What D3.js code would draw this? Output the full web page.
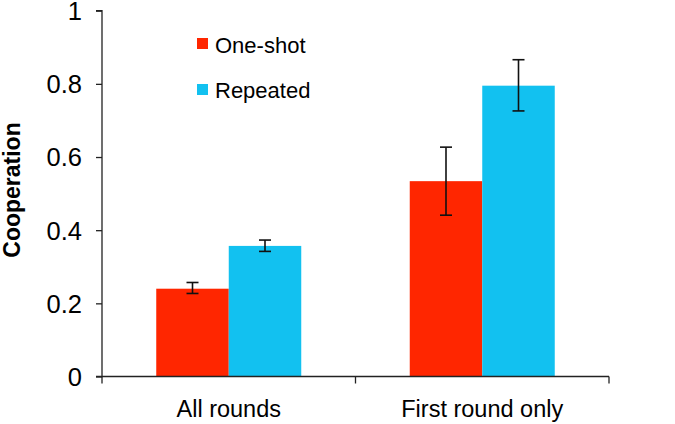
<!DOCTYPE html>
<html><head><meta charset="utf-8">
<script src="https://cdn.jsdelivr.net/npm/d3@7"></script>
<style>body{margin:0;background:#fff}svg{display:block}text{font-family:"Liberation Sans",Arial,sans-serif;fill:#000}</style>
</head><body>
<svg id="c" width="675" height="424"></svg>
<script>
const categories = ["All rounds", "First round only"];
const seriesNames = ["One-shot", "Repeated"];
const oneShot = [0.240, 0.534];
const repeated = [0.357, 0.795];
const oneShotLow = [0.227, 0.441];
const oneShotHigh = [0.257, 0.627];
const repeatedLow = [0.342, 0.726];
const repeatedHigh = [0.373, 0.866];
const yTicks = [0, 0.2, 0.4, 0.6, 0.8, 1];
const colors = ["#ff2600", "#12c1f0"];

const svg = d3.select("#c");
const y = d3.scaleLinear().domain([0, 1]).range([376.5, 10.7]);
const x0 = d3.scaleBand().domain(categories).range([102, 609]).paddingInner(0.428).paddingOuter(0.214);
const x1 = d3.scaleBand().domain(seriesNames).range([0, x0.bandwidth()]);

const series = [
  {name: seriesNames[0], vals: oneShot, lo: oneShotLow, hi: oneShotHigh, color: colors[0]},
  {name: seriesNames[1], vals: repeated, lo: repeatedLow, hi: repeatedHigh, color: colors[1]}
];

// bars
series.forEach(s => {
  svg.append("g").selectAll("rect").data(categories).join("rect")
    .attr("x", c => x0(c) + x1(s.name))
    .attr("y", (c, i) => y(s.vals[i]))
    .attr("width", x1.bandwidth())
    .attr("height", (c, i) => y(0) - y(s.vals[i]))
    .attr("fill", s.color);
});

// error bars
series.forEach(s => {
  const g = svg.append("g").attr("stroke", "#111").attr("stroke-width", 1.6);
  categories.forEach((c, i) => {
    const cx = x0(c) + x1(s.name) + x1.bandwidth() / 2;
    g.append("line").attr("x1", cx).attr("x2", cx).attr("y1", y(s.lo[i])).attr("y2", y(s.hi[i]));
    g.append("line").attr("x1", cx - 6).attr("x2", cx + 6).attr("y1", y(s.lo[i])).attr("y2", y(s.lo[i]));
    g.append("line").attr("x1", cx - 6).attr("x2", cx + 6).attr("y1", y(s.hi[i])).attr("y2", y(s.hi[i]));
  });
});

// y axis
const yAxis = d3.axisLeft(y).tickValues(yTicks).tickFormat(d => d === 0 || d === 1 ? String(d) : d3.format(".1f")(d)).tickSize(6).tickPadding(14);
const gy = svg.append("g").attr("transform", "translate(102,0)").call(yAxis);
gy.select(".domain").attr("stroke", "#222").attr("stroke-width", 1.3).attr("d", `M-6,${y(1)}H0V${y(0)}H-6`);
gy.selectAll(".tick line").attr("stroke", "#222").attr("stroke-width", 1.3);
gy.selectAll(".tick text").style("font-size", "25.5px").attr("fill", "#000").attr("dy", "0.35em");

// x axis
const gx = svg.append("g");
gx.append("line").attr("x1", 102).attr("x2", 609).attr("y1", y(0)).attr("y2", y(0)).attr("stroke", "#222").attr("stroke-width", 1.3);
const bounds = [102, 102 + x0.step(), 609];
gx.selectAll("line.t").data(bounds).join("line").attr("class", "t")
  .attr("x1", d => d).attr("x2", d => d).attr("y1", y(0)).attr("y2", y(0) + 7)
  .attr("stroke", "#222").attr("stroke-width", 1.3);
gx.selectAll("text").data(categories).join("text")
  .attr("x", c => x0(c) + x0.bandwidth() / 2).attr("y", 417)
  .attr("text-anchor", "middle").style("font-size", "23.5px").text(c => c);

// y title
svg.append("text").attr("transform", "translate(19.5,190) rotate(-90)")
  .attr("text-anchor", "middle").style("font-size", "23px").style("font-weight", "bold").text("Cooperation");

// legend
const leg = svg.append("g");
series.forEach((s, i) => {
  leg.append("rect").attr("x", 197).attr("y", 38 + i * 46).attr("width", 11).attr("height", 11).attr("fill", s.color);
  leg.append("text").attr("x", 215).attr("y", 53 + i * 45).style("font-size", "22px").text(s.name);
});
</script>
</body></html>
